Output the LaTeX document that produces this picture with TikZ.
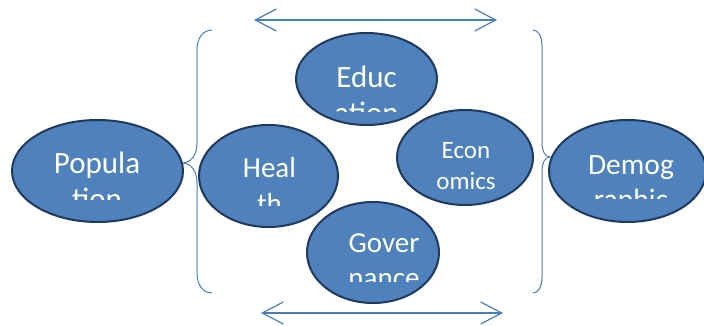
\documentclass[tikz,border=0pt]{standalone}
\usepackage{fontspec}
\setmainfont{Carlito}
\usetikzlibrary{shapes.geometric,arrows.meta}
\definecolor{bubblefill}{HTML}{4F81BD}
\definecolor{bubbleline}{HTML}{1F3A5E}
\definecolor{linkblue}{HTML}{4A7EBB}

\begin{document}
\begin{tikzpicture}
  [x=1pt,y=-1pt,
   bubble/.style={ellipse,draw=bubbleline,fill=bubblefill,line width=2pt,inner sep=0pt},
   btext/.style={text=white,anchor=base,inner sep=0pt},
   bracket/.style={draw=linkblue,line width=1pt},
   twoway/.style={draw=linkblue,line width=1.2pt,{Straight Barb[length=21pt,width=22pt]}-{Straight Barb[length=21pt,width=22pt]}}]
  \useasboundingbox (0,0) rectangle (704,326);

  \draw[bracket] (212,30) .. controls (203,30) and (197,38) .. (197,50) -- (197,143)
    .. controls (197,155) and (191,163) .. (182,163)
    .. controls (191,163) and (197,171) .. (197,183) -- (197,273)
    .. controls (197,285) and (203,293) .. (212,293);
  \draw[bracket] (533,30) .. controls (538,30) and (542,36) .. (542,46) -- (542,143)
    .. controls (542,151) and (545,157) .. (550,157)
    .. controls (545,157) and (542,163) .. (542,171) -- (542,277)
    .. controls (542,287) and (538,293) .. (533,293);

  \node[bubble,minimum width=171,minimum height=102] (pop) at (97.5,171) {};
  \node[bubble,minimum width=139,minimum height=102] (hea) at (268.5,176) {};
  \node[bubble,minimum width=141,minimum height=92] (edu) at (366.5,79) {};
  \node[bubble,minimum width=136,minimum height=95] (eco) at (465,157.5) {};
  \node[bubble,minimum width=132,minimum height=101] (gov) at (373,252.5) {};
  \node[bubble,minimum width=157,minimum height=102] (dem) at (627.5,171) {};

  \foreach \n/\x/\ya/\yb/\yc/\s/\la/\lb in
    {pop/97/173/209/199/31/Popula/tion,
     hea/269.5/178/213/205/29/Heal/th,
     edu/366.5/88/124/112/31/Educ/ation,
     eco/466/158/189.5/189/25/Econ/omics,
     gov/384/252/287/281/29/Gover/nance,
     dem/631/174/209/198/29.5/Demog/raphic}
  {
    \node[btext,font=\fontsize{\s}{\s}\selectfont] (\n1) at (\x,\ya) {\la};
    \begin{scope}
      \clip (\x-90,\ya) rectangle (\x+90,\yc);
      \node[btext,font=\fontsize{\s}{\s}\selectfont] (\n2) at (\x,\yb) {\lb};
    \end{scope}
  }

  \coordinate (upL) at (254,20);
  \coordinate (upR) at (497,20);
  \coordinate (loL) at (261,313);
  \coordinate (loR) at (503,313);
  \draw[twoway] (upL) -- (upR);
  \draw[twoway] (loL) -- (loR);

\end{tikzpicture}
\end{document}
